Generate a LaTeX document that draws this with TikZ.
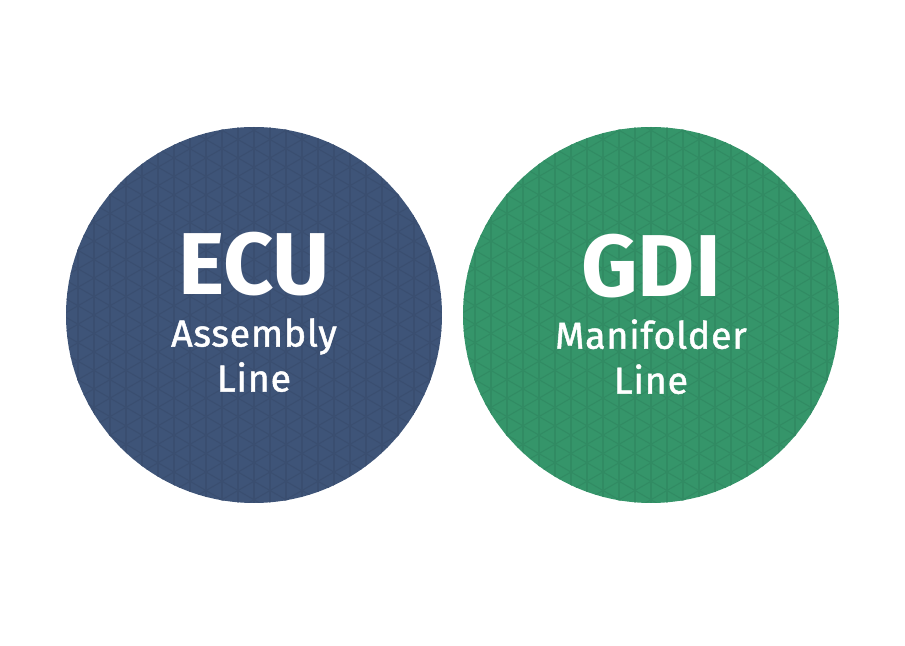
\documentclass[tikz,border=0pt]{standalone}
\usepackage{fontspec}
\setmainfont{Fira Sans}
\usetikzlibrary{positioning}
\definecolor{ecublue}{RGB}{62,84,120}
\definecolor{gdigreen}{RGB}{53,149,106}

\begin{document}
\begin{tikzpicture}[node distance=0.1cm,
  gridln/.style={line width=0.3pt, draw=#1},
  disc/.style={circle, minimum size=3.76cm, inner sep=0pt, fill=#1,
    path picture={
      \begin{scope}[shift={(path picture bounding box.center)}]
        \foreach \k in {-20,...,20}{
          \draw[gridln=#1!93!black] (\k*0.16,-2) -- (\k*0.16,2);
          \draw[gridln=#1!93!black] (-2.24,{\k*0.18475-1.2933}) -- (2.24,{\k*0.18475+1.2933});
          \draw[gridln=#1!93!black] (-2.24,{\k*0.18475+1.2933}) -- (2.24,{\k*0.18475-1.2933});
        }
      \end{scope}}},
  title/.style={text=white, font=\fontsize{25}{29}\selectfont\bfseries, inner sep=0pt},
  sub/.style={text=white, align=center, inner sep=0pt,
    font=\addfontfeatures{LetterSpace=2,FakeBold=1.2}\fontsize{10.7}{12.8}\selectfont}]
  \useasboundingbox (0,0) rectangle (9.05,6.46);
  \node[disc=ecublue] (ecu) at (2.54,3.31) {};
  \node[disc=gdigreen] (gdi) at (6.51,3.31) {};
  \node[title] (ecutitle) at ([yshift=0.51cm]ecu.center) {ECU};
  \node[sub, below=0.21cm of ecutitle] (ecusub) {Assembly\\Line};
  \node[title] (gditile) at ([yshift=0.49cm]gdi.center) {GDI};
  \node[sub, below=0.2cm of gditile] (gdisub) {Manifolder\\Line};
\end{tikzpicture}
\end{document}
